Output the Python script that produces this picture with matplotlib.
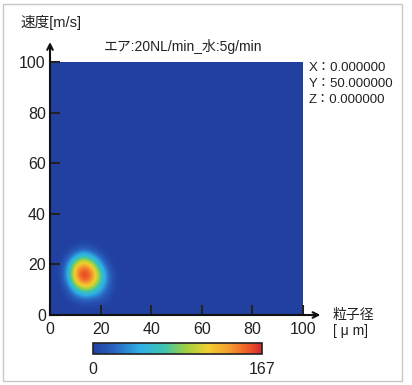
import matplotlib.pyplot as plt
import numpy as np
from matplotlib.colors import LinearSegmentedColormap
from matplotlib.patches import Rectangle

plt.rcParams['font.family'] = ['Liberation Sans', 'Noto Sans CJK JP', 'DejaVu Sans']

# particle size (x) and velocity (y) cell centres of the hot region [um], [m/s]
size_centres = [1.5, 4.5, 7.5, 10.5, 13.5, 16.5, 19.5, 22.5, 25.5, 28.5]
vel_centres = [1.5, 4.5, 7.5, 10.5, 13.5, 16.5, 19.5, 22.5, 25.5, 28.5]
# counts, rows = velocity (bottom to top), cols = particle size
counts = [
    [0, 0, 0, 0, 0, 0, 0, 0, 0, 0],
    [0, 0, 0, 3, 5, 5, 4, 2, 0, 0],
    [0, 0, 5, 25, 40, 35, 25, 10, 0, 0],
    [0, 0, 20, 70, 100, 90, 55, 20, 2, 0],
    [0, 3, 45, 125, 160, 140, 85, 30, 3, 0],
    [0, 5, 55, 145, 167, 150, 90, 30, 2, 0],
    [0, 3, 45, 120, 145, 120, 60, 15, 0, 0],
    [0, 0, 18, 60, 85, 60, 25, 4, 0, 0],
    [0, 0, 3, 15, 25, 15, 5, 0, 0, 0],
    [0, 0, 0, 0, 2, 0, 0, 0, 0, 0],
]
vmax = 167
xticks = [0, 20, 40, 60, 80, 100]
yticks = [0, 20, 40, 60, 80, 100]

cmap = LinearSegmentedColormap.from_list('cnt', [
    (0.0, '#2140a0'), (0.12, '#2a62c0'), (0.28, '#2fb0e6'), (0.42, '#3cc4b0'),
    (0.55, '#9fd040'), (0.68, '#f0d030'), (0.8, '#f5a030'), (0.92, '#ee5a28'),
    (1.0, '#d4282a')])

fig = plt.figure(figsize=(4.12, 3.85), dpi=100)
fig.patches.append(Rectangle((3 / 412, 4 / 385), 399 / 412, 377 / 385,
                             transform=fig.transFigure, fill=False,
                             edgecolor='#c8c8c8', linewidth=1.0))

ax = fig.add_axes([50 / 412, 70 / 385, 253 / 412, 253 / 385])
ax.set_facecolor(cmap(0.0))
dx = size_centres[1] - size_centres[0]
dy = vel_centres[1] - vel_centres[0]
im = ax.imshow(np.array(counts), origin='lower', cmap=cmap, vmin=0, vmax=vmax,
               interpolation='bicubic', aspect='auto',
               extent=(size_centres[0] - dx / 2, size_centres[-1] + dx / 2,
                       vel_centres[0] - dy / 2, vel_centres[-1] + dy / 2))
ax.set_xlim(0, 100)
ax.set_ylim(0, 100)
ax.set_xticks(xticks)
ax.set_yticks(yticks)
ax.tick_params(direction='in', length=7, width=1.5, color='#222222',
               labelsize=11.5, pad=3, labelcolor='#222222')
ax.tick_params(axis='x', pad=5)
for s in ['top', 'right']:
    ax.spines[s].set_visible(False)
for s in ['left', 'bottom']:
    ax.spines[s].set_linewidth(1.5)
    ax.spines[s].set_color('#111111')

# axis arrows
ax.annotate('', xy=(0, 109), xytext=(0, 99), xycoords='data',
            arrowprops=dict(arrowstyle='->', lw=1.5, color='#111111'),
            annotation_clip=False)
ax.annotate('', xy=(108, 0), xytext=(99, 0), xycoords='data',
            arrowprops=dict(arrowstyle='->', lw=1.5, color='#111111'),
            annotation_clip=False)

fig.text(20 / 412, 1 - 22 / 385, '速度[m/s]', fontsize=10.5, va='center',
         color='#222222')
fig.text(183 / 412, 1 - 47 / 385, 'エア:20NL/min_水:5g/min', fontsize=10,
         ha='center', va='center', color='#222222')
for i, t in enumerate(['X：0.000000', 'Y：50.000000', 'Z：0.000000']):
    fig.text(309 / 412, 1 - (68 + 16 * i) / 385, t, fontsize=9.5, va='center',
             color='#222222')
fig.text(333 / 412, 1 - 323 / 385, '粒子径\n[ μ m]', fontsize=10,
         va='center', linespacing=1.2, color='#222222')

cax = fig.add_axes([93 / 412, 31 / 385, 169 / 412, 11 / 385])
cb = fig.colorbar(im, cax=cax, orientation='horizontal', ticks=[0, vmax])
cb.outline.set_linewidth(1.2)
cb.outline.set_edgecolor('#222222')
cax.tick_params(length=0, labelsize=11.5, pad=6, labelcolor='#222222')

fig.savefig('out.png', dpi=100)
